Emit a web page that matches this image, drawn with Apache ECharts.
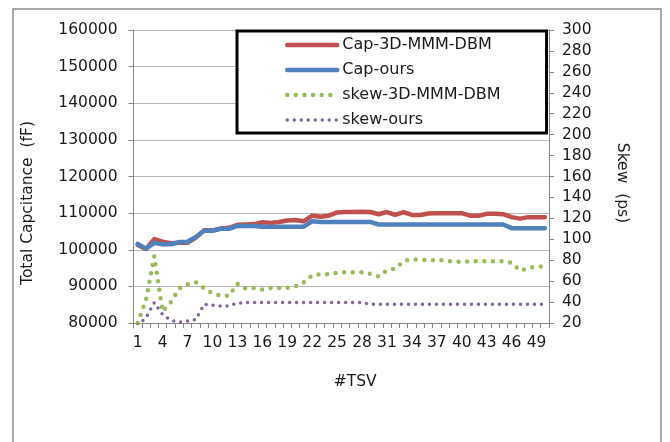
<!DOCTYPE html>
<html>
<head>
<meta charset="utf-8">
<script src="https://cdn.jsdelivr.net/npm/echarts@6/dist/echarts.min.js"></script>
<style>
  html, body { margin: 0; padding: 0; background: #ffffff; }
  #chart { width: 670px; height: 442px; }
</style>
</head>
<body>
<div id="chart"></div>
<script>
// Number of TSVs (x categories)
const tsvCounts = [
  1, 2, 3, 4, 5, 6, 7, 8, 9, 10,
  11, 12, 13, 14, 15, 16, 17, 18, 19, 20,
  21, 22, 23, 24, 25, 26, 27, 28, 29, 30,
  31, 32, 33, 34, 35, 36, 37, 38, 39, 40,
  41, 42, 43, 44, 45, 46, 47, 48, 49, 50
];

// Total capacitance (fF), left axis
const capDbm = [
  101300, 100200, 102900, 102200, 101800, 101900, 101900, 103300, 105300, 105300,
  105800, 106000, 106800, 106900, 107000, 107500, 107300, 107600, 108000, 108100,
  107800, 109300, 109000, 109300, 110200, 110300, 110300, 110400, 110300, 109700,
  110300, 109500, 110300, 109500, 109500, 109900, 110000, 110000, 110000, 110000,
  109300, 109300, 109800, 109800, 109700, 108900, 108500, 108900, 108900, 108900
];
const capOurs = [
  101600, 100300, 101900, 101500, 101500, 102100, 102200, 103500, 105200, 105200,
  105700, 105700, 106500, 106500, 106500, 106300, 106300, 106300, 106300, 106300,
  106300, 107800, 107600, 107600, 107600, 107600, 107600, 107600, 107600, 106900,
  106900, 106900, 106900, 106900, 106900, 106900, 106900, 106900, 106900, 106900,
  106900, 106900, 106900, 106900, 106900, 105900, 105900, 105900, 105900, 105900
];

// Clock skew (ps), right axis
const skewDbm = [
  20, 42, 84, 31, 40, 53, 57, 59, 53, 48.5,
  46, 46, 57.5, 53, 53.5, 52, 53.5, 53.5, 53.5, 55,
  59, 65.5, 66.5, 66.5, 68, 68.5, 68.5, 68.5, 67, 64.5,
  70.5, 72, 79, 81, 80.5, 80, 80, 80, 78.5, 78.5,
  79, 79, 79, 79, 79, 77.5, 70, 72.5, 74, 74
];
const skewOurs = [
  18, 25, 39.5, 28, 22.5, 20.7, 21.8, 23.3, 38, 37,
  36.2, 36.3, 39, 39.5, 39.5, 39.5, 39.5, 39.5, 39.5, 39.5,
  39.5, 39.5, 39.5, 39.5, 39.5, 39.5, 39.5, 39.5, 38, 38,
  38, 38, 38, 38, 38, 38, 38, 38, 38, 38,
  38, 38, 38, 38, 38, 38, 38, 38, 38, 38
];

const FONT = 'DejaVu Sans';
const TEXT = '#1a1a1a';
const AXIS_GRAY = '#868686';

const chart = echarts.init(document.getElementById('chart'), null, { renderer: 'canvas' });

chart.setOption({
  backgroundColor: '#ffffff',
  animation: false,
  textStyle: { fontFamily: FONT, color: TEXT },
  graphic: [{
    // outer chart frame
    type: 'rect',
    z: 0,
    shape: { x: 13, y: 9, width: 648, height: 460 },
    style: { fill: null, stroke: '#8c8c8c', lineWidth: 1.5 },
    silent: true
  }],
  grid: { left: 133.5, right: 121, top: 30, bottom: 119, containLabel: false },
  legend: {
    orient: 'vertical',
    left: 237,
    top: 31,
    padding: [6, 46, 5, 48],
    itemGap: 9,
    itemWidth: 50,
    itemHeight: 14,
    backgroundColor: '#ffffff',
    borderColor: '#000000',
    borderWidth: 3,
    borderRadius: 0,
    textStyle: { fontFamily: FONT, fontSize: 16, color: TEXT, lineHeight: 16 },
    // legend keys show only the line sample, no point marker
    itemStyle: { color: 'rgba(0,0,0,0)', borderWidth: 0, opacity: 0 },
    lineStyle: { width: 'inherit' },
    data: ['Cap-3D-MMM-DBM', 'Cap-ours', 'skew-3D-MMM-DBM', 'skew-ours']
  },
  xAxis: {
    type: 'category',
    data: tsvCounts,
    boundaryGap: true,
    name: '#TSV',
    nameLocation: 'middle',
    nameGap: 51,
    nameTextStyle: { fontFamily: FONT, fontSize: 15.5, color: TEXT, padding: [0, 0, 0, 28] },
    axisLine: { lineStyle: { color: AXIS_GRAY, width: 1 } },
    axisTick: { show: true, interval: 0, length: 5, lineStyle: { color: AXIS_GRAY } },
    axisLabel: { interval: 2, margin: 12, fontFamily: FONT, fontSize: 15.5, color: TEXT },
    splitLine: { show: false }
  },
  yAxis: [{
    type: 'value',
    position: 'left',
    min: 80000,
    max: 160000,
    interval: 10000,
    name: 'Total Capcitance  (fF)',
    nameLocation: 'middle',
    nameRotate: 90,
    nameGap: 98,
    nameTextStyle: { fontFamily: FONT, fontSize: 15.5, color: TEXT, padding: [0, 53, 0, 0] },
    axisLine: { show: true, lineStyle: { color: AXIS_GRAY, width: 1 } },
    axisTick: { show: true, length: 5, lineStyle: { color: AXIS_GRAY } },
    axisLabel: { margin: 16, fontFamily: FONT, fontSize: 15.5, color: TEXT, formatter: v => String(v) },
    splitLine: { show: true, lineStyle: { color: '#b8b8b8', width: 1.2 } }
  }, {
    type: 'value',
    position: 'right',
    min: 20,
    max: 300,
    interval: 20,
    name: 'Skew  (ps)',
    nameLocation: 'middle',
    nameRotate: -90,
    nameGap: 65,
    nameTextStyle: { fontFamily: FONT, fontSize: 15.5, color: TEXT, padding: [0, 0, 0, 13] },
    axisLine: { show: true, lineStyle: { color: AXIS_GRAY, width: 1 } },
    axisTick: { show: true, length: 5, lineStyle: { color: AXIS_GRAY } },
    axisLabel: { margin: 13, fontFamily: FONT, fontSize: 15.5, color: TEXT, formatter: v => String(v) },
    splitLine: { show: false }
  }],
  series: [{
    name: 'Cap-3D-MMM-DBM',
    type: 'line',
    yAxisIndex: 0,
    data: capDbm,
    symbol: 'none',
    color: '#C0504D',
    lineStyle: { color: '#C0504D', width: 4.5, cap: 'round', join: 'round' },
    z: 3
  }, {
    name: 'Cap-ours',
    type: 'line',
    yAxisIndex: 0,
    data: capOurs,
    symbol: 'none',
    color: '#4F81BD',
    lineStyle: { color: '#4F81BD', width: 4.5, cap: 'round', join: 'round' },
    z: 4
  }, {
    name: 'skew-3D-MMM-DBM',
    type: 'line',
    yAxisIndex: 1,
    data: skewDbm,
    symbol: 'none',
    color: '#9BBB59',
    lineStyle: { color: '#9BBB59', width: 4.5, type: [0, 8.6], cap: 'round', join: 'round' },
    z: 3
  }, {
    name: 'skew-ours',
    type: 'line',
    yAxisIndex: 1,
    data: skewOurs,
    symbol: 'none',
    color: '#8064A2',
    lineStyle: { color: '#8064A2', width: 3.5, type: [0, 7], cap: 'round', join: 'round' },
    z: 3
  }]
});
</script>
</body>
</html>
